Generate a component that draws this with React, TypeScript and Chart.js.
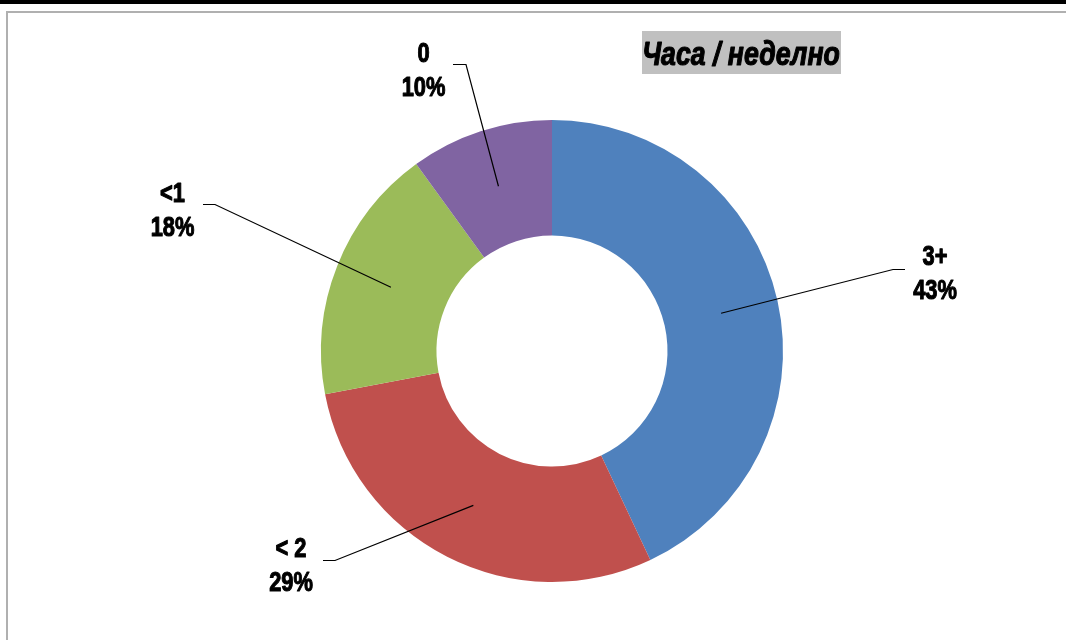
import React, { useEffect, useRef } from "react";
import { Chart, registerables } from "chart.js";

Chart.register(...registerables);

// ---- data ----
const categories = ["3+", "< 2", "<1", "0"];
const shares = [43, 29, 18, 10];
const percentLabels = ["43%", "29%", "18%", "10%"];
const colors = ["#4F81BD", "#C0504D", "#9BBB59", "#8064A2"];
const chartTitle = "Часа / неделно";

// ---- label layout (offsets from the doughnut centre, px) ----
const labelLayout = [
  { dx: 383, dy: -86.5, tailX: 353, elbowX: 341, lineY: -81.5 },
  { dx: -261, dy: 205.5, tailX: -229, elbowX: -217, lineY: 209.5 },
  { dx: -379.5, dy: -149.5, tailX: -349, elbowX: -337, lineY: -146.5 },
  { dx: -128.5, dy: -289.5, tailX: -99, elbowX: -86, lineY: -286.5 },
];

const FONT_FAMILY = "'Liberation Sans', Arial, sans-serif";

function drawScaledText(
  ctx: CanvasRenderingContext2D,
  text: string,
  cx: number,
  baseline: number,
  scaleX: number,
  strokeW: number
) {
  ctx.save();
  ctx.translate(cx, baseline);
  ctx.scale(scaleX, 1);
  ctx.textAlign = "center";
  ctx.textBaseline = "alphabetic";
  ctx.fillText(text, 0, 0);
  if (strokeW > 0) {
    ctx.lineWidth = strokeW;
    ctx.lineJoin = "round";
    ctx.strokeStyle = ctx.fillStyle as string;
    ctx.strokeText(text, 0, 0);
  }
  ctx.restore();
}

const decorPlugin = {
  id: "decor",
  beforeDraw(chart: any) {
    const ctx: CanvasRenderingContext2D = chart.ctx;
    const w = chart.width;
    const h = chart.height;
    ctx.save();
    ctx.fillStyle = "#ffffff";
    ctx.fillRect(0, 0, w, h);
    // top black rule
    ctx.fillStyle = "#000000";
    ctx.fillRect(0, 0, w, 4);
    // gray frame
    ctx.fillStyle = "#b0b0b0";
    ctx.fillRect(6, 11, w - 6, 2);
    ctx.fillRect(6, 11, 2, h - 11);
    // title box
    ctx.fillStyle = "#C0C0C0";
    ctx.fillRect(642, 31, 199, 43);
    ctx.fillStyle = "#000000";
    ctx.font = `italic bold 34px ${FONT_FAMILY}`;
    drawScaledText(ctx, chartTitle, 741, 65, 0.785, 1.2);
    ctx.restore();
  },
  afterDraw(chart: any) {
    const ctx: CanvasRenderingContext2D = chart.ctx;
    const meta = chart.getDatasetMeta(0);
    ctx.save();
    meta.data.forEach((arc: any, i: number) => {
      const lay = labelLayout[i];
      const cx = arc.x;
      const cy = arc.y;
      const p = arc.getCenterPoint();
      // leader line
      ctx.strokeStyle = "#000000";
      ctx.lineWidth = 1.2;
      ctx.beginPath();
      ctx.moveTo(cx + lay.tailX, cy + lay.lineY);
      ctx.lineTo(cx + lay.elbowX, cy + lay.lineY);
      ctx.lineTo(p.x, p.y);
      ctx.stroke();
      // label text
      ctx.fillStyle = "#000000";
      ctx.font = `bold 28px ${FONT_FAMILY}`;
      drawScaledText(ctx, categories[i], cx + lay.dx, cy + lay.dy, 0.78, 1.1);
      drawScaledText(ctx, percentLabels[i], cx + lay.dx, cy + lay.dy + 34.5, 0.78, 1.1);
    });
    ctx.restore();
  },
};

export default function App() {
  const canvasRef = useRef<HTMLCanvasElement | null>(null);

  useEffect(() => {
    if (!canvasRef.current) return;
    const chart = new Chart(canvasRef.current, {
      type: "doughnut",
      data: {
        labels: categories,
        datasets: [
          {
            data: shares,
            backgroundColor: colors,
            borderWidth: 0,
          },
        ],
      },
      options: {
        animation: false,
        responsive: false,
        cutout: "50%",
        rotation: 0,
        layout: {
          padding: { left: 321, right: 283, top: 120, bottom: 58 },
        },
        plugins: {
          legend: { display: false },
          tooltip: { enabled: false },
          title: { display: false },
        },
      },
      plugins: [decorPlugin],
    });
    return () => chart.destroy();
  }, []);

  return (
    <div style={{ position: "fixed", left: 0, top: 0, width: 1066, height: 640, background: "#fff" }}>
      <canvas ref={canvasRef} width={1066} height={640} style={{ display: "block", width: 1066, height: 640 }} />
    </div>
  );
}
